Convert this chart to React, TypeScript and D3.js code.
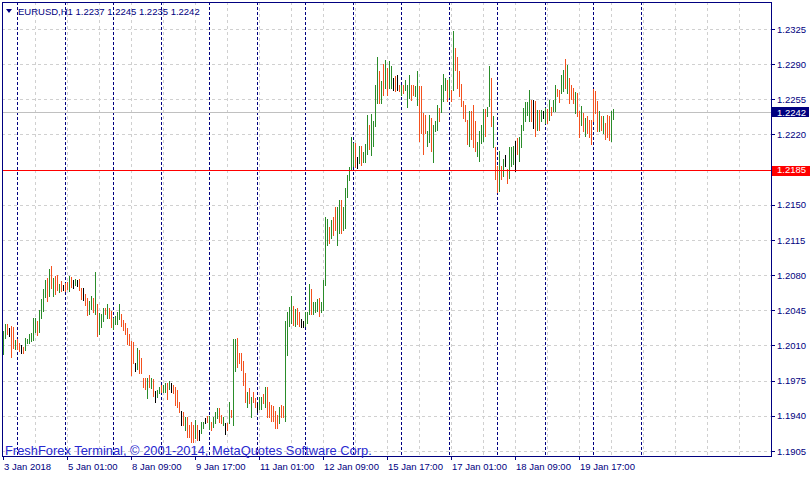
import React from 'react';
import * as d3 from 'd3';

// chart header and reference lines
const headerText = 'EURUSD,H1  1.2237 1.2245 1.2235 1.2242';
const copyrightText = 'FreshForex Terminal, © 2001-2014, MetaQuotes Software Corp.';
const bidPrice = 1.2242;
const alertPrice = 1.2185;

// price axis
const priceTicks = [
  1.2325, 1.229, 1.2255, 1.222, 1.2185, 1.215, 1.2115, 1.208, 1.2045, 1.201, 1.1975, 1.194, 1.1905,
];

// time axis (positions are bar numbers)
const timeLabels = [
  '3 Jan 2018', '5 Jan 01:00', '8 Jan 09:00', '9 Jan 17:00', '11 Jan 01:00',
  '12 Jan 09:00', '15 Jan 17:00', '17 Jan 01:00', '18 Jan 09:00', '19 Jan 17:00',
];
const timeLabelBars = [0, 32, 64, 96, 128, 160, 192, 224, 256, 288];
const gridBars = [16, 32, 48, 64, 80, 96, 112, 128, 144, 160, 176, 192, 208, 224, 240, 256, 272, 288, 304, 320, 336, 352, 368];
const daySeparatorBars = [7, 31, 55, 79, 103, 127, 151, 175, 199, 223, 247, 271, 295, 319];

// H1 bars, 3 Jan 17:00 .. 22 Jan 10:00
const highs = [
  1.2024, 1.2031, 1.2031, 1.2027, 1.2029, 1.2028, 1.2015, 1.2016, 1.2012, 1.2010,
  1.2009, 1.2017, 1.2016, 1.2021, 1.2022, 1.2037, 1.2037, 1.2034, 1.2045, 1.2056,
  1.2066, 1.2075, 1.2077, 1.2086, 1.2089, 1.2077, 1.2079, 1.2080, 1.2071, 1.2074,
  1.2070, 1.2072, 1.2073, 1.2079, 1.2078, 1.2075, 1.2076, 1.2075, 1.2076, 1.2067,
  1.2067, 1.2061, 1.2057, 1.2054, 1.2059, 1.2057, 1.2083, 1.2051, 1.2042, 1.2041,
  1.2047, 1.2047, 1.2051, 1.2047, 1.2044, 1.2037, 1.2039, 1.2043, 1.2051, 1.2041,
  1.2035, 1.2032, 1.2027, 1.2021, 1.2014, 1.2013, 1.1993, 1.2008, 1.2006, 1.1998,
  1.1978, 1.1978, 1.1978, 1.1981, 1.1978, 1.1977, 1.1965, 1.1966, 1.1969, 1.1971,
  1.1971, 1.1973, 1.1973, 1.1975, 1.1973, 1.1971, 1.1969, 1.1966, 1.1954, 1.1945,
  1.1944, 1.1939, 1.1939, 1.1931, 1.1934, 1.1931, 1.1936, 1.1931, 1.1926, 1.1934,
  1.1934, 1.1938, 1.1940, 1.1940, 1.1934, 1.1939, 1.1944, 1.1948, 1.1948, 1.1941,
  1.1939, 1.1933, 1.1933, 1.1954, 1.1946, 1.2016, 1.2016, 1.2017, 1.2003, 1.2003,
  1.1995, 1.1983, 1.1964, 1.1968, 1.1959, 1.1964, 1.1958, 1.1953, 1.1959, 1.1959,
  1.1962, 1.1969, 1.1969, 1.1954, 1.1951, 1.1950, 1.1945, 1.1941, 1.1949, 1.1951,
  1.1950, 1.2034, 1.2043, 1.2048, 1.2059, 1.2049, 1.2046, 1.2047, 1.2043, 1.2036,
  1.2034, 1.2043, 1.2043, 1.2071, 1.2066, 1.2053, 1.2053, 1.2056, 1.2057, 1.2053,
  1.2075, 1.2138, 1.2136, 1.2128, 1.2135, 1.2138, 1.2148, 1.2148, 1.2155, 1.2155,
  1.2148, 1.2167, 1.2180, 1.2188, 1.2218, 1.2212, 1.2212, 1.2198, 1.2209, 1.2209,
  1.2203, 1.2211, 1.2239, 1.2229, 1.2240, 1.2233, 1.2269, 1.2297, 1.2283, 1.2273,
  1.2290, 1.2294, 1.2286, 1.2293, 1.2288, 1.2276, 1.2278, 1.2279, 1.2269, 1.2269,
  1.2269, 1.2274, 1.2269, 1.2279, 1.2269, 1.2269, 1.2268, 1.2283, 1.2268, 1.2268,
  1.2241, 1.2239, 1.2223, 1.2239, 1.2236, 1.2229, 1.2233, 1.2249, 1.2246, 1.2269,
  1.2280, 1.2276, 1.2274, 1.2276, 1.2264, 1.2323, 1.2306, 1.2297, 1.2283, 1.2270,
  1.2253, 1.2249, 1.2234, 1.2243, 1.2243, 1.2249, 1.2233, 1.2213, 1.2223, 1.2229,
  1.2245, 1.2245, 1.2247, 1.2288, 1.2276, 1.2238, 1.2208, 1.2189, 1.2204, 1.2189,
  1.2196, 1.2200, 1.2186, 1.2208, 1.2208, 1.2209, 1.2214, 1.2217, 1.2218, 1.2229,
  1.2246, 1.2252, 1.2252, 1.2264, 1.2254, 1.2254, 1.2253, 1.2244, 1.2244, 1.2244,
  1.2243, 1.2246, 1.2245, 1.2254, 1.2247, 1.2254, 1.2269, 1.2265, 1.2264, 1.2279,
  1.2284, 1.2295, 1.2289, 1.2276, 1.2269, 1.2266, 1.2262, 1.2261, 1.2243, 1.2248,
  1.2241, 1.2236, 1.2238, 1.2234, 1.2234, 1.2265, 1.2263, 1.2253, 1.2243, 1.2238,
  1.2238, 1.2231, 1.2239, 1.2238, 1.2243, 1.2245,
];
const lows = [
  1.2002, 1.2017, 1.2021, 1.2019, 1.1999, 1.2008, 1.2007, 1.2007, 1.2005, 1.2003,
  1.2003, 1.2006, 1.2012, 1.2012, 1.2014, 1.2015, 1.2023, 1.2020, 1.2023, 1.2037,
  1.2044, 1.2058, 1.2054, 1.2059, 1.2067, 1.2059, 1.2061, 1.2065, 1.2063, 1.2064,
  1.2065, 1.2064, 1.2066, 1.2064, 1.2068, 1.2067, 1.2070, 1.2069, 1.2065, 1.2056,
  1.2055, 1.2050, 1.2040, 1.2041, 1.2046, 1.2043, 1.2041, 1.2019, 1.2021, 1.2028,
  1.2034, 1.2041, 1.2037, 1.2037, 1.2028, 1.2026, 1.2031, 1.2031, 1.2036, 1.2029,
  1.2025, 1.2021, 1.2011, 1.2010, 1.1981, 1.1993, 1.1985, 1.1987, 1.1983, 1.1983,
  1.1969, 1.1967, 1.1958, 1.1969, 1.1968, 1.1960, 1.1954, 1.1959, 1.1963, 1.1964,
  1.1964, 1.1964, 1.1957, 1.1967, 1.1964, 1.1963, 1.1951, 1.1949, 1.1944, 1.1931,
  1.1931, 1.1926, 1.1919, 1.1919, 1.1914, 1.1914, 1.1918, 1.1916, 1.1916, 1.1923,
  1.1928, 1.1933, 1.1934, 1.1927, 1.1926, 1.1929, 1.1933, 1.1938, 1.1934, 1.1933,
  1.1931, 1.1922, 1.1926, 1.1933, 1.1939, 1.1931, 1.1985, 1.1989, 1.1993, 1.1986,
  1.1971, 1.1954, 1.1949, 1.1953, 1.1939, 1.1954, 1.1949, 1.1944, 1.1947, 1.1947,
  1.1953, 1.1949, 1.1939, 1.1939, 1.1935, 1.1935, 1.1928, 1.1928, 1.1933, 1.1939,
  1.1939, 1.1935, 1.2001, 1.2029, 1.2032, 1.2030, 1.2029, 1.2031, 1.2029, 1.2028,
  1.2028, 1.2029, 1.2032, 1.2041, 1.2041, 1.2041, 1.2043, 1.2044, 1.2039, 1.2043,
  1.2045, 1.2070, 1.2110, 1.2112, 1.2117, 1.2120, 1.2125, 1.2110, 1.2122, 1.2122,
  1.2125, 1.2127, 1.2158, 1.2175, 1.2185, 1.2189, 1.2188, 1.2187, 1.2192, 1.2190,
  1.2193, 1.2193, 1.2201, 1.2206, 1.2200, 1.2209, 1.2228, 1.2251, 1.2251, 1.2251,
  1.2259, 1.2266, 1.2259, 1.2266, 1.2266, 1.2264, 1.2263, 1.2264, 1.2263, 1.2259,
  1.2261, 1.2264, 1.2247, 1.2256, 1.2254, 1.2259, 1.2258, 1.2249, 1.2214, 1.2221,
  1.2201, 1.2221, 1.2209, 1.2213, 1.2204, 1.2193, 1.2223, 1.2224, 1.2233, 1.2242,
  1.2253, 1.2264, 1.2253, 1.2257, 1.2253, 1.2264, 1.2284, 1.2266, 1.2258, 1.2248,
  1.2236, 1.2233, 1.2211, 1.2209, 1.2216, 1.2208, 1.2204, 1.2199, 1.2194, 1.2212,
  1.2214, 1.2219, 1.2238, 1.2248, 1.2228, 1.2208, 1.2176, 1.2163, 1.2164, 1.2176,
  1.2179, 1.2189, 1.2172, 1.2177, 1.2189, 1.2191, 1.2184, 1.2201, 1.2194, 1.2208,
  1.2224, 1.2233, 1.2239, 1.2233, 1.2233, 1.2226, 1.2219, 1.2224, 1.2224, 1.2233,
  1.2236, 1.2231, 1.2231, 1.2234, 1.2239, 1.2243, 1.2243, 1.2258, 1.2252, 1.2261,
  1.2263, 1.2266, 1.2261, 1.2251, 1.2255, 1.2251, 1.2241, 1.2238, 1.2218, 1.2229,
  1.2223, 1.2219, 1.2221, 1.2218, 1.2211, 1.2233, 1.2241, 1.2223, 1.2223, 1.2224,
  1.2221, 1.2216, 1.2218, 1.2215, 1.2214, 1.2235,
];
// u = bull bar, d = bear bar, n = open equals close
const moves = [
  'uudndduddn', 'duuuuuuduu', 'uudududdud', 'nddudnundd', 'ndduududuu',
  'ududduuuud', 'ddddddnudd', 'ddududnuud', 'uudunddddn', 'duddddudnu',
  'unduduuudd', 'unduduuddd', 'ddududdnuu', 'duddddddud', 'duuuududdn',
  'nuuuduuudu', 'uuududduud', 'uuuuuudnud', 'uuuduuuudu', 'duduundndu',
  'duuudduudd', 'dduuduuudu', 'uudududddd', 'ddduddduuu', 'uduududdud',
  'unduuunduu', 'uuuudndudu', 'nududuuddu', 'ududdduddu', 'duddddddud',
  'uddduu',
].join('');

const NAVY = '#000080';
const GRID = '#d0d0d0';
const BULL = '#2a8c2a';
const BEAR = '#f4511e';
const FONT = '"Liberation Sans", Arial, sans-serif';

export default function App() {
  const width = 811;
  const height = 478;
  const left = 2;
  const right = 771;
  const top = 2;
  const bottom = 456;

  const x = d3.scaleLinear().domain([0, 384]).range([3, 771]);
  const y = d3.scaleLinear().domain([1.1905, 1.2325]).range([451, 29]);

  const colorOf = (m: string) => (m === 'u' ? BULL : m === 'd' ? BEAR : '#000');

  return (
    <svg
      width={width}
      height={height}
      style={{ position: 'absolute', left: 0, top: 0, background: '#fff' }}
      fontFamily={FONT}
    >
      <rect x={0} y={0} width={width} height={height} fill="#fff" />

      {/* horizontal grid */}
      {priceTicks.map((p) => (
        <line
          key={'hg' + p}
          x1={left}
          x2={right}
          y1={Math.round(y(p)) + 0.5}
          y2={Math.round(y(p)) + 0.5}
          stroke={GRID}
          strokeDasharray="3,3"
        />
      ))}
      {/* vertical grid */}
      {gridBars.map((b) => (
        <line
          key={'vg' + b}
          x1={x(b) + 0.5}
          x2={x(b) + 0.5}
          y1={top}
          y2={bottom}
          stroke={GRID}
          strokeDasharray="3,3"
        />
      ))}
      {/* day separators */}
      {daySeparatorBars.map((b) => (
        <line
          key={'ds' + b}
          x1={x(b) + 0.5}
          x2={x(b) + 0.5}
          y1={top}
          y2={bottom}
          stroke={NAVY}
          strokeDasharray="3,2"
        />
      ))}

      {/* bid line */}
      <line
        x1={left}
        x2={right}
        y1={Math.round(y(bidPrice)) + 0.5}
        y2={Math.round(y(bidPrice)) + 0.5}
        stroke="#c0c0c0"
      />

      {/* bars */}
      <g shapeRendering="crispEdges">
        {highs.map((h, i) => {
          const y0 = Math.round(y(h));
          const y1 = Math.round(y(lows[i]));
          return (
            <rect
              key={i}
              x={x(i)}
              y={y0}
              width={1}
              height={Math.max(1, y1 - y0 + 1)}
              fill={colorOf(moves[i])}
            />
          );
        })}
      </g>

      {/* alert line */}
      <line
        x1={left}
        x2={right}
        y1={Math.round(y(alertPrice)) + 0.5}
        y2={Math.round(y(alertPrice)) + 0.5}
        stroke="#ff0000"
      />

      {/* frame */}
      <rect
        x={left + 0.5}
        y={top + 0.5}
        width={right - left}
        height={bottom - top}
        fill="none"
        stroke={NAVY}
      />

      {/* price axis */}
      {priceTicks.map((p) => (
        <g key={'pt' + p}>
          <line
            x1={right}
            x2={right + 4}
            y1={Math.round(y(p)) + 0.5}
            y2={Math.round(y(p)) + 0.5}
            stroke={NAVY}
          />
          {p !== alertPrice && (
            <text x={777} y={y(p) + 3.5} fontSize={9.5} fill={NAVY}>
              {p.toFixed(4)}
            </text>
          )}
        </g>
      ))}
      <rect x={772} y={Math.round(y(alertPrice)) - 4} width={38} height={10} fill="#ff0000" />
      <text x={777} y={y(alertPrice) + 3.5} fontSize={9.5} fill="#fff">
        {alertPrice.toFixed(4)}
      </text>
      <rect x={772} y={Math.round(y(bidPrice)) - 5} width={37} height={10} fill={NAVY} />
      <text x={777} y={y(bidPrice) + 3.5} fontSize={9.5} fill="#fff">
        {bidPrice.toFixed(4)}
      </text>

      {/* time axis */}
      {timeLabelBars.map((b, k) => (
        <g key={'tl' + b}>
          <line x1={x(b) + 0.5} x2={x(b) + 0.5} y1={bottom} y2={bottom + 4} stroke={NAVY} />
          <text x={x(b) + 1} y={470} fontSize={9.5} fill={NAVY}>
            {timeLabels[k]}
          </text>
        </g>
      ))}

      {/* header */}
      <path d="M6,9 L12,9 L9,13 Z" fill={NAVY} />
      <text x={18} y={15} fontSize={9.5} fill={NAVY}>
        {headerText}
      </text>

      {/* copyright */}
      <text x={5} y={455} fontSize={12.9} fill="#2828d0">
        {copyrightText}
      </text>
    </svg>
  );
}
